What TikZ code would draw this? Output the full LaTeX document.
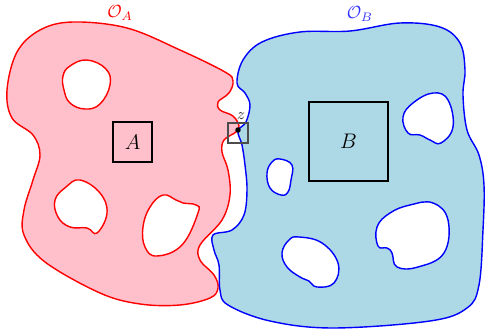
\documentclass[tikz,border=0pt]{standalone}
\definecolor{pinkA}{RGB}{255,192,203}
\definecolor{blueB}{RGB}{173,216,230}
\tikzset{
  regionA/.style={fill=pinkA, draw=red, thick, even odd rule},
  regionB/.style={fill=blueB, draw=blue, thick, even odd rule},
  setbox/.style={draw=black, thick, inner sep=0pt, font=\large},
}
\begin{document}
\begin{tikzpicture}[x=0.02cm,y=-0.02cm]
\useasboundingbox (0,0) rectangle (485,331);
% region A
\path[regionA]
 plot[smooth cycle, tension=0.6] coordinates {(73,22) (127,28) (180,50) (225,72) (233,81) (229,93) (218,102) (220,110) (233,116) (239,126) (236,132) (224,140) (222,152) (228,170) (230,195) (222,220) (200,245) (200,260) (214,275) (218,288) (210,298) (180,305) (140,304) (100,293) (45,262) (24,235) (24,210) (33,180) (40,155) (33,135) (12,118) (7,90) (17,52) (40,30)}
 plot[smooth cycle, tension=0.7] coordinates {(87,60) (106,69) (110,85) (100,104) (85,109) (70,103) (64,90) (63,76) (70,66)}
 plot[smooth cycle, tension=0.7] coordinates {(80,180) (100,193) (107,213) (97,233) (87,228) (70,227) (58,217) (55,200) (66,187)}
 plot[smooth cycle, tension=0.7] coordinates {(163,195) (176,200) (183,203) (196,205) (198,213) (182,245) (157,256) (145,247) (143,227) (150,207)};
% region B
\path[regionB]
 plot[smooth cycle, tension=0.6] coordinates {(237,83) (243,60) (262,42) (300,32) (350,31) (400,23) (440,27) (460,43) (465,70) (463,95) (467,130) (479,155) (484,185) (483,230) (479,285) (467,308) (430,321) (333,328) (270,321) (228,305) (220,290) (219,265) (214,250) (213,235) (232,230) (244,215) (247,190) (245,165) (242,145) (238,131) (246,122) (250,105) (245,93)}
 plot[smooth cycle, tension=0.7] coordinates {(280,159) (292,165) (291,180) (288,192) (281,195) (270,188) (267,173) (272,162)}
 plot[smooth cycle, tension=0.7] coordinates {(433,93) (448,100) (453,127) (441,143) (430,140) (420,135) (408,133) (403,117) (413,103)}
 plot[smooth cycle, tension=0.7] coordinates {(433,203) (448,220) (444,253) (418,267) (397,267) (392,253) (387,248) (378,246) (377,227) (390,213) (410,205)}
 plot[smooth cycle, tension=0.7] coordinates {(299,237) (322,243) (338,263) (334,283) (317,287) (309,281) (300,277) (287,267) (282,253) (289,240)};
% boxes
\node[setbox, minimum width=0.78cm, minimum height=0.80cm] (boxA) at (132.5,142) {$A$};
\node[setbox, minimum width=1.58cm, minimum height=1.58cm] (boxB) at (348.5,141.5) {$B$};
\node[draw=black!70, thick, minimum size=0.4cm, inner sep=0pt] (boxz) at (238,133) {};
\node[circle, fill=black, inner sep=1.1pt] (z) at (238,130) {};
\node[font=\small, text=black!80] (zlabel) at (241,116) {$z$};
% labels
\node[text=red] (labA) at (120,13) {$\mathcal{O}_A$};
\node[text=blue!80] (labB) at (360,14) {$\mathcal{O}_B$};
\end{tikzpicture}
\end{document}
